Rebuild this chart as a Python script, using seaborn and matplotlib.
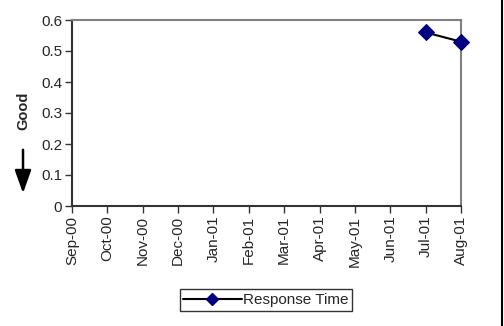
import numpy as np
import pandas as pd
import matplotlib
matplotlib.use("Agg")
import matplotlib.pyplot as plt
import seaborn as sns
from matplotlib.lines import Line2D

months = ['Sep-00', 'Oct-00', 'Nov-00', 'Dec-00', 'Jan-01', 'Feb-01',
          'Mar-01', 'Apr-01', 'May-01', 'Jun-01', 'Jul-01', 'Aug-01']
response_time = [None, None, None, None, None, None,
                 None, None, None, None, 0.56, 0.53]
yticks = [0, 0.1, 0.2, 0.3, 0.4, 0.5, 0.6]

sns.set_style("white")
plt.rcParams['font.family'] = ['Liberation Sans', 'DejaVu Sans']

df = pd.DataFrame({'pos': range(len(months)), 'month': months,
                   'value': response_time}).dropna()

fig = plt.figure(figsize=(5.04, 3.26), dpi=100)
ax = fig.add_axes([72 / 504, 1 - 206 / 326, (461 - 72) / 504, (206 - 20) / 326])

sns.lineplot(data=df, x='pos', y='value', ax=ax, color='black', lw=1.5,
             marker='D', markersize=8, markerfacecolor='#000080',
             markeredgecolor='#000080', clip_on=False, zorder=5)

ax.set_xlim(0, len(months) - 1)
ax.set_ylim(0, 0.6)
ax.set_xticks(range(len(months)))
ax.set_xticklabels(months, rotation=90, fontsize=11)
ax.set_yticks(yticks)
ax.set_yticklabels([('%g' % t) for t in yticks], fontsize=11)
ax.set_xlabel('')
ax.set_ylabel('')
ax.tick_params(axis='both', direction='out', length=5, width=1, color='#333333',
               bottom=True, left=True, pad=2)
for s in ['left', 'bottom']:
    ax.spines[s].set_color('#333333')
    ax.spines[s].set_linewidth(1.5)
for s in ['top', 'right']:
    ax.spines[s].set_color('#808080')
    ax.spines[s].set_linewidth(1.5)

fig.text(23 / 504, 1 - 111 / 326, 'Good', rotation=90, fontsize=10.5,
         fontweight='bold', ha='center', va='center')
fig.add_artist(matplotlib.patches.FancyArrowPatch(
    (23 / 504, 1 - 147 / 326), (23 / 504, 1 - 196 / 326),
    transform=fig.transFigure, arrowstyle='-|>,head_length=14,head_width=5',
    mutation_scale=1, color='black', lw=1.8))

fig.add_artist(Line2D([502 / 504, 502 / 504], [0, 1], transform=fig.transFigure,
                      color='black', lw=1.5))

handle = Line2D([], [], color='black', lw=1.5, marker='D', markersize=6,
                markerfacecolor='#000080', markeredgecolor='#000080')
leg = fig.legend([handle], ['Response Time'], loc='center',
                 bbox_to_anchor=(266 / 504, 1 - 300 / 326), fontsize=11,
                 frameon=True, fancybox=False, handlelength=3.8,
                 borderpad=0.25, handletextpad=0.1, borderaxespad=0)
leg.get_frame().set_edgecolor('black')
leg.get_frame().set_linewidth(1)

fig.savefig('out.png', dpi=100)
